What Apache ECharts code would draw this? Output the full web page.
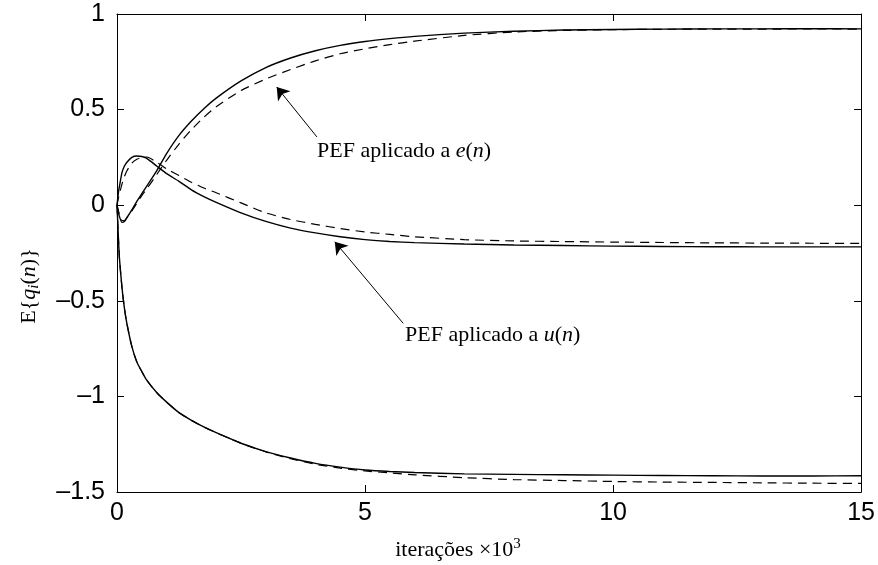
<!DOCTYPE html>
<html>
<head>
<meta charset="utf-8">
<script src="https://cdn.jsdelivr.net/npm/echarts@6/dist/echarts.min.js"></script>
<style>html,body{margin:0;padding:0;background:#fff;}#c{width:878px;height:565px;}</style>
</head>
<body>
<div id="c"></div>
<script>
// iterations (x 10^3)
var xs = [0, 0.03, 0.05, 0.1, 0.15, 0.2, 0.3, 0.4, 0.5, 0.6, 0.8, 1.0, 1.25, 1.5, 1.75, 2.0, 2.5, 3.0, 3.5, 4.0, 4.5, 5.0, 5.5, 6.0, 7, 8, 9, 10, 11, 12, 13, 14, 15];
var eSolid = [0, -0.04, -0.06, -0.09, -0.085, -0.065, -0.025, 0.02, 0.06, 0.10, 0.18, 0.27, 0.365, 0.44, 0.505, 0.56, 0.65, 0.72, 0.77, 0.808, 0.836, 0.856, 0.871, 0.883, 0.9, 0.91, 0.916, 0.919, 0.921, 0.922, 0.922, 0.923, 0.922];
var eDashed = [0, -0.03, -0.05, -0.08, -0.08, -0.065, -0.03, 0.01, 0.05, 0.085, 0.16, 0.235, 0.32, 0.395, 0.46, 0.515, 0.6, 0.66, 0.71, 0.755, 0.792, 0.818, 0.84, 0.858, 0.888, 0.906, 0.914, 0.918, 0.92, 0.921, 0.921, 0.922, 0.921];
var uSolid = [0, 0.07, 0.1, 0.17, 0.205, 0.225, 0.25, 0.257, 0.255, 0.245, 0.205, 0.165, 0.125, 0.08, 0.045, 0.015, -0.04, -0.085, -0.12, -0.145, -0.165, -0.18, -0.19, -0.196, -0.203, -0.208, -0.211, -0.214, -0.216, -0.217, -0.218, -0.218, -0.218];
var uDashed = [0, 0.04, 0.06, 0.11, 0.15, 0.18, 0.22, 0.24, 0.25, 0.252, 0.225, 0.19, 0.155, 0.12, 0.09, 0.065, 0.012, -0.04, -0.075, -0.1, -0.122, -0.14, -0.153, -0.165, -0.18, -0.187, -0.19, -0.193, -0.195, -0.197, -0.198, -0.199, -0.2];
var lowSolid = [0, -0.18, -0.28, -0.43, -0.54, -0.62, -0.74, -0.82, -0.87, -0.915, -0.98, -1.03, -1.085, -1.125, -1.16, -1.19, -1.245, -1.289, -1.322, -1.35, -1.37, -1.385, -1.393, -1.398, -1.405, -1.408, -1.41, -1.412, -1.414, -1.415, -1.416, -1.416, -1.415];
var lowDashed = [0, -0.18, -0.28, -0.43, -0.54, -0.62, -0.74, -0.82, -0.87, -0.915, -0.98, -1.03, -1.085, -1.125, -1.16, -1.19, -1.245, -1.29, -1.326, -1.355, -1.375, -1.39, -1.4, -1.41, -1.425, -1.435, -1.44, -1.445, -1.448, -1.45, -1.452, -1.454, -1.455];
var xTicks = [0, 5, 10, 15];
var yTicks = [-1.5, -1, -0.5, 0, 0.5, 1];
// annotation arrows: [tail, head] in data coords
var arrowE = [[4.03, 0.357], [3.22, 0.618]];
var arrowU = [[5.77, -0.618], [4.39, -0.191]];

function pairs(ys) { return xs.map(function (x, i) { return [x, ys[i]]; }); }

var chart = echarts.init(document.getElementById('c'), null, {renderer: 'canvas'});
var serif = "'Liberation Serif','Times New Roman',serif";
var sans = "'Liberation Sans',Arial,Helvetica,sans-serif";
function fmt(v) { return String(v).replace('-', '\u2013'); }

var axisCommon = {
  axisLine: {show: true, onZero: false, lineStyle: {color: '#000', width: 1}},
  axisTick: {show: true, inside: true, length: 7, lineStyle: {color: '#000', width: 1}},
  splitLine: {show: false}
};

function lineSeries(ys, dashed) {
  return {
    type: 'line', data: pairs(ys), showSymbol: false, symbol: 'none', smooth: 0.2,
    lineStyle: {color: '#000', width: dashed ? 1.2 : 1.4, type: dashed ? [9, 6] : 'solid'},
    animation: false, silent: true
  };
}

var series = [
  lineSeries(eSolid, false), lineSeries(eDashed, true),
  lineSeries(uSolid, false), lineSeries(uDashed, true),
  lineSeries(lowSolid, false), lineSeries(lowDashed, true)
];
series[0].markLine = {
  silent: true, animation: false, symbol: ['none', 'arrow'], symbolSize: 12,
  label: {show: false}, lineStyle: {color: '#000', width: 1, type: 'solid'},
  itemStyle: {color: '#000'},
  emphasis: {disabled: true},
  data: [
    [{coord: arrowE[0]}, {coord: arrowE[1]}],
    [{coord: arrowU[0]}, {coord: arrowU[1]}]
  ]
};

var richBase = {
  a: {fontFamily: serif, fontSize: 22, color: '#000', lineHeight: 26},
  i: {fontFamily: serif, fontSize: 22, fontStyle: 'italic', color: '#000', lineHeight: 26},
  s: {fontFamily: serif, fontSize: 15, fontStyle: 'italic', color: '#000', lineHeight: 15, verticalAlign: 'bottom'},
  p: {fontFamily: serif, fontSize: 15, color: '#000', lineHeight: 15, verticalAlign: 'top'}
};

chart.setOption({
  backgroundColor: '#fff',
  animation: false,
  grid: {left: 117, right: 16, top: 14, bottom: 73, containLabel: false},
  xAxis: [
    Object.assign({}, axisCommon, {
      type: 'value', min: 0, max: 15, interval: 5, position: 'bottom',
      axisLabel: {show: true, margin: 9, color: '#000', fontFamily: sans, fontSize: 25, formatter: fmt}
    }),
    Object.assign({}, axisCommon, {
      type: 'value', min: 0, max: 15, interval: 5, position: 'top',
      axisLabel: {show: false}
    })
  ],
  yAxis: [
    Object.assign({}, axisCommon, {
      type: 'value', min: -1.5, max: 1, interval: 0.5, position: 'left',
      axisLabel: {show: true, margin: 12, color: '#000', fontFamily: sans, fontSize: 25, formatter: fmt}
    }),
    Object.assign({}, axisCommon, {
      type: 'value', min: -1.5, max: 1, interval: 0.5, position: 'right',
      axisLabel: {show: false}
    })
  ],
  series: series,
  graphic: [
    {type: 'text', left: 317, top: 140, silent: true,
     style: {text: '{a|PEF aplicado a }{i|e}{a|(}{i|n}{a|)}', rich: richBase, fill: '#000'}},
    {type: 'text', left: 405, top: 324, silent: true,
     style: {text: '{a|PEF aplicado a }{i|u}{a|(}{i|n}{a|)}', rich: richBase, fill: '#000'}},
    {type: 'text', x: 458, y: 550, silent: true,
     style: {text: '{a|iteraç\u00f5es \u00d710}{p|3}', rich: richBase, fill: '#000', align: 'center', verticalAlign: 'middle'}},
    {type: 'text', x: 29, y: 286, rotation: Math.PI / 2, silent: true,
     style: {text: '{a|E{}{i|q}{s|i}{a|(}{i|n}{a|)}}', rich: richBase, fill: '#000',
             font: "22px 'Liberation Serif', 'Times New Roman', serif", lineHeight: 26,
             align: 'center', verticalAlign: 'middle'}}
  ]
});
</script>
</body>
</html>
